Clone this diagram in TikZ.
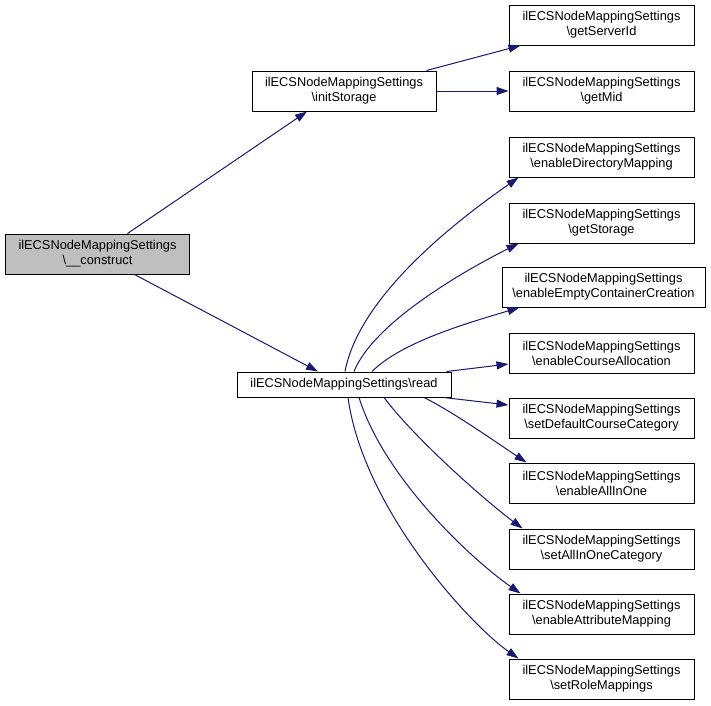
\documentclass[tikz,border=0pt]{standalone}
\usepackage{fontspec}
\setmainfont{Liberation Sans}
\usetikzlibrary{arrows.meta}
\definecolor{edgecol}{HTML}{191970}
\definecolor{rootfill}{HTML}{BFBFBF}
\tikzset{
  fbox/.style={draw=black, line width=1pt, fill=white, align=center, inner sep=0pt,
    minimum height=40pt, font=\fontsize{12.8}{15}\selectfont},
  rbox/.style={fbox, minimum width=185pt},
  edge/.style={draw=edgecol, line width=1pt, -{Triangle[length=12pt,width=8pt]}}
}
\begin{document}
\begin{tikzpicture}[x=1pt,y=-1pt]
\useasboundingbox (0,0) rectangle (711,705);
\node[fbox, fill=rootfill, minimum width=184pt] (cons) at (97.5,254) {ilECSNodeMappingSettings\\\textbackslash\_\_construct};
\node[fbox, minimum width=184pt] (init) at (344,91) {ilECSNodeMappingSettings\\\textbackslash initStorage};
\node[fbox, minimum width=214pt, minimum height=25pt] (read) at (344,384.5) {ilECSNodeMappingSettings\textbackslash read};
\node[rbox] (gsi) at (601.5,25) {ilECSNodeMappingSettings\\\textbackslash getServerId};
\node[rbox] (gm) at (601.5,91) {ilECSNodeMappingSettings\\\textbackslash getMid};
\node[rbox] (edm) at (601.5,157) {ilECSNodeMappingSettings\\\textbackslash enableDirectoryMapping};
\node[rbox] (gs) at (601.5,223) {ilECSNodeMappingSettings\\\textbackslash getStorage};
\node[fbox, minimum width=203pt] (ecc) at (603.5,287) {ilECSNodeMappingSettings\\\textbackslash enableEmptyContainerCreation};
\node[rbox] (eca) at (601.5,353) {ilECSNodeMappingSettings\\\textbackslash enableCourseAllocation};
\node[rbox] (sdcc) at (601.5,418) {ilECSNodeMappingSettings\\\textbackslash setDefaultCourseCategory};
\node[rbox] (eaio) at (601.5,483) {ilECSNodeMappingSettings\\\textbackslash enableAllInOne};
\node[rbox] (saioc) at (601.5,549) {ilECSNodeMappingSettings\\\textbackslash setAllInOneCategory};
\node[rbox] (eam) at (601.5,614) {ilECSNodeMappingSettings\\\textbackslash enableAttributeMapping};
\node[rbox] (srm) at (601.5,679) {ilECSNodeMappingSettings\\\textbackslash setRoleMappings};

\draw[edge] ([xshift=30pt]cons.north) -- ([xshift=-37pt]init.south);
\draw[edge] ([xshift=37pt]cons.south) -- ([xshift=-26pt]read.north);
\draw[edge] ([xshift=-10pt]init.north east) -- ([xshift=12pt]gsi.south west);
\draw[edge] (init.east) -- (gm.west);

\draw[edge] ([xshift=1pt]read.north) .. controls +(15,-80) and +(-50,35) .. ([xshift=10pt]edm.south west);
\draw[edge] ([xshift=10pt]read.north) .. controls +(20,-50) and +(-50,25) .. ([xshift=10pt]gs.south west);
\draw[edge] ([xshift=28pt]read.north) .. controls +(30,-30) and +(-50,15) .. ([xshift=18pt]ecc.south west);
\draw[edge] ([xshift=-5pt]read.north east) -- ([yshift=-11pt]eca.west);
\draw[edge] ([xshift=-8pt]read.south east) -- ([yshift=13pt]sdcc.west);
\draw[edge] ([xshift=80pt]read.south) .. controls +(30,15) and +(-30,-20) .. ([xshift=18pt]eaio.north west);
\draw[edge] ([xshift=40pt]read.south) .. controls +(30,40) and +(-40,-30) .. ([xshift=14pt]saioc.north west);
\draw[edge] ([xshift=15pt]read.south) .. controls +(25,80) and +(-50,-35) .. ([xshift=12pt]eam.north west);
\draw[edge] ([xshift=4pt]read.south) .. controls +(15,110) and +(-50,-35) .. ([xshift=10pt]srm.north west);
\end{tikzpicture}
\end{document}
